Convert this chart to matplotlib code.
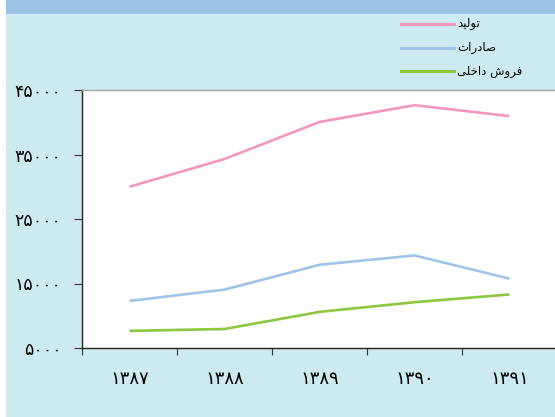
import matplotlib
matplotlib.use("Agg")
import matplotlib.pyplot as plt
from matplotlib.patches import Rectangle
from matplotlib.lines import Line2D

# ---- data ----
years = ["۱۳۸۷", "۱۳۸۸", "۱۳۸۹", "۱۳۹۰", "۱۳۹۱"]
production = [30000, 34300, 40050, 42650, 40950]      # تولید
exports = [12300, 14050, 17900, 19350, 15750]         # صادرات
domestic = [7650, 7950, 10600, 12100, 13300]          # فروش داخلی
series_names = ["تولید", "صادرات", "فروش داخلی"]
yticks = [5000, 15000, 25000, 35000, 45000]
ytick_labels = ["۵۰۰۰", "۱۵۰۰۰", "۲۵۰۰۰", "۳۵۰۰۰", "۴۵۰۰۰"]

# ---- minimal Arabic/Persian shaping (isolated, final, initial, medial) ----
FORMS = {
    'ا': ('\uFE8D', '\uFE8E', None, None),
    'ت': ('\uFE95', '\uFE96', '\uFE97', '\uFE98'),
    'خ': ('\uFEA5', '\uFEA6', '\uFEA7', '\uFEA8'),
    'د': ('\uFEA9', '\uFEAA', None, None),
    'ر': ('\uFEAD', '\uFEAE', None, None),
    'ش': ('\uFEB5', '\uFEB6', '\uFEB7', '\uFEB8'),
    'ص': ('\uFEB9', '\uFEBA', '\uFEBB', '\uFEBC'),
    'ف': ('\uFED1', '\uFED2', '\uFED3', '\uFED4'),
    'ل': ('\uFEDD', '\uFEDE', '\uFEDF', '\uFEE0'),
    'و': ('\uFEED', '\uFEEE', None, None),
    'ی': ('\uFEEF', '\uFEF0', '\uFEF3', '\uFEF4'),
}

def shape(text):
    out = []
    n = len(text)
    for i, ch in enumerate(text):
        if ch not in FORMS:
            out.append(ch)
            continue
        iso, fin, ini, med = FORMS[ch]
        prev = text[i - 1] if i > 0 else None
        nxt = text[i + 1] if i < n - 1 else None
        join_prev = prev in FORMS and FORMS[prev][2] is not None
        join_next = nxt in FORMS and ini is not None
        if join_prev and join_next:
            out.append(med)
        elif join_prev:
            out.append(fin)
        elif join_next:
            out.append(ini)
        else:
            out.append(iso)
    return ''.join(reversed(out))

W, H = 555, 417
fig = plt.figure(figsize=(W / 100, H / 100), dpi=100, facecolor="white")

bg = "#cdeaf0"
fig.add_artist(Rectangle((6 / W, 0), 1 - 6 / W, 1, transform=fig.transFigure,
                         facecolor=bg, edgecolor="none", zorder=-10))
fig.add_artist(Rectangle((6 / W, 1 - 14 / H), 1 - 6 / W, 14 / H, transform=fig.transFigure,
                         facecolor="#9dc3e6", edgecolor="none", zorder=-9))

ax = fig.add_axes([82 / W, (H - 348) / H, (557 - 82) / W, (348 - 90) / H])
ax.set_facecolor("white")

x = [i + 0.5 for i in range(len(years))]
colors = ["#f397bf", "#9ec4e8", "#8dc63f"]
for vals, c in zip([production, exports, domestic], colors):
    ax.plot(x, vals, color=c, lw=1.9, solid_capstyle="butt")

ax.set_xlim(0, 5)
ax.set_ylim(5000, 45000)
ax.set_yticks(yticks)
ax.set_yticklabels(ytick_labels, fontsize=12.5, family=["DejaVu Sans"])
ax.set_xticks(range(5))
ax.set_xticklabels([])
ax.set_xticks(x, minor=True)
ax.set_xticklabels(years, minor=True, fontsize=13, family=["DejaVu Sans"])
ax.tick_params(axis="x", which="major", length=5, direction="out", width=0.8, color="#333333")
ax.tick_params(axis="x", which="minor", length=0, pad=16)
ax.tick_params(axis="y", length=6, direction="out", width=0.8, color="#333333", pad=9)

for s in ["left", "bottom"]:
    ax.spines[s].set_color("#222222")
    ax.spines[s].set_linewidth(1.0)
ax.spines["right"].set_visible(False)
ax.spines["top"].set_color("#9aa6aa")
ax.spines["top"].set_linewidth(1.0)

# legend (line on the left, label on the right)
rows_y = [24, 48, 71]
for name, c, yy in zip(series_names, colors, rows_y):
    fig.add_artist(Line2D([401 / W, 454 / W], [1 - yy / H, 1 - yy / H],
                          transform=fig.transFigure, color=c, lw=2.2))
    fig.text(457 / W, 1 - yy / H, shape(name), fontsize=8.5, va="center", ha="left",
             family=["DejaVu Sans"])

fig.savefig("out.png", dpi=100, facecolor=fig.get_facecolor())
